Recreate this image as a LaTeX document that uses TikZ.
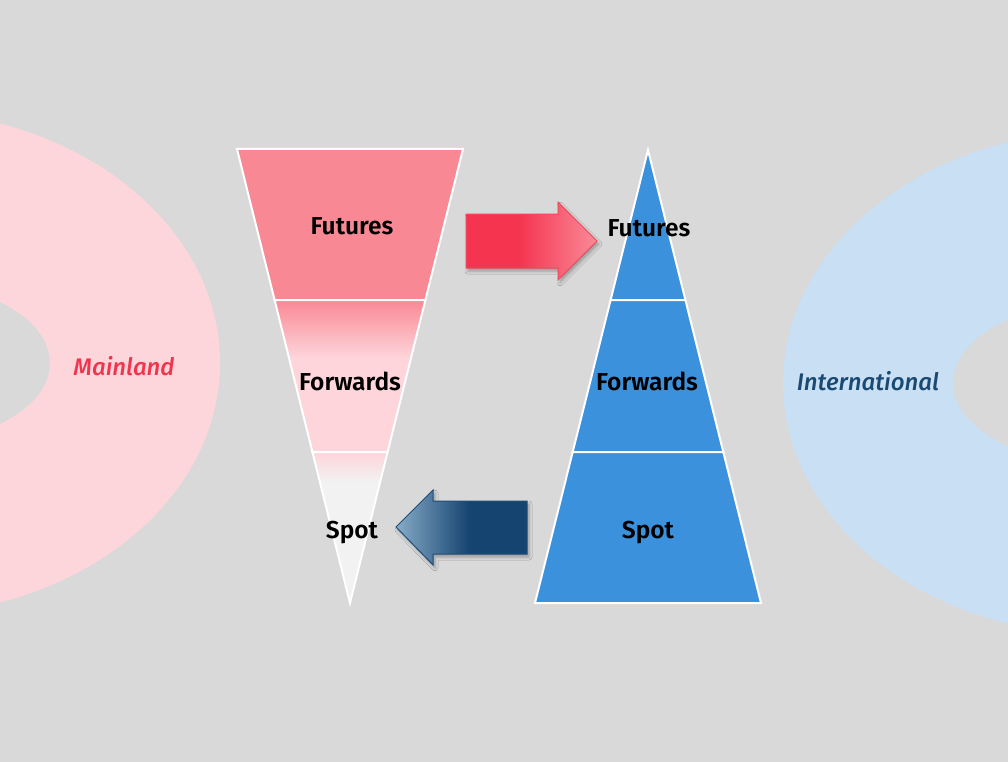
\documentclass[tikz,border=0pt]{standalone}
\usepackage{fontspec}
\setmainfont{Fira Sans}[BoldFont={Fira Sans SemiBold}, BoldItalicFont={Fira Sans Medium Italic}]
\usetikzlibrary{shadows.blur}
\definecolor{bg}{HTML}{D9D9D9}
\definecolor{ringpink}{HTML}{FDD6DB}
\definecolor{ringblue}{HTML}{C9DFF4}
\definecolor{funtop}{HTML}{F98895}
\definecolor{funlight}{HTML}{FDD5DA}
\definecolor{spotgray}{HTML}{F2F2F2}
\definecolor{pyr}{HTML}{3C91DC}
\definecolor{redA}{HTML}{F5344F}
\definecolor{redB}{HTML}{F98A98}
\definecolor{redline}{HTML}{F0485A}
\definecolor{blueA}{HTML}{88ABC8}
\definecolor{blueB}{HTML}{154470}
\definecolor{blueline}{HTML}{1F4E79}
\definecolor{mainred}{HTML}{F0364F}
\definecolor{intlblue}{HTML}{1A4A73}
\pgfdeclareverticalshading{midband}{100bp}{color(0bp)=(funlight); color(56bp)=(funlight); color(75bp)=(funtop); color(100bp)=(funtop)}
\pgfdeclareverticalshading{lowband}{100bp}{color(0bp)=(spotgray); color(65bp)=(spotgray); color(75bp)=(funlight); color(100bp)=(funlight)}
\pgfdeclarehorizontalshading{redarrow}{100bp}{color(0bp)=(redA); color(45bp)=(redA); color(75bp)=(redB); color(100bp)=(redB)}
\pgfdeclarehorizontalshading{bluearrow}{100bp}{color(0bp)=(blueA); color(25bp)=(blueA); color(53bp)=(blueB); color(100bp)=(blueB)}
\tikzset{
  seg/.style={draw=white, line width=2pt},
  lbl/.style={font=\fontsize{24.5}{28}\selectfont\bfseries, text=black, inner sep=0pt, anchor=base},
  ringlbl/.style={font=\fontsize{24}{28}\selectfont\bfseries\itshape, inner sep=0pt, anchor=base},
  arrshadow/.style={blur shadow={shadow xshift=2pt, shadow yshift=-3pt, shadow blur radius=3pt, shadow opacity=30}}
}
\begin{document}
\begin{tikzpicture}[x=1pt, y=-1pt]
\useasboundingbox (0,0) rectangle (1008,762);
\fill[bg] (0,0) rectangle (1008,762);
\begin{scope}
\clip (0,0) rectangle (1008,762);
\fill[ringpink, even odd rule] (-100,363) ellipse [x radius=320, y radius=252] (-100,363) ellipse [x radius=150, y radius=82];
\fill[ringblue, even odd rule] (1103,383) ellipse [x radius=320, y radius=252] (1103,383) ellipse [x radius=150, y radius=82];
\end{scope}
\node[ringlbl, text=mainred] (mainland) at (124,375) {Mainland};
\node[ringlbl, text=intlblue] (intl) at (868,390) {International};
% funnel
\path[seg, fill=funtop] (237,149) -- (463,149) -- (425.4,300) -- (274.6,300) -- cycle;
\shade[seg, shading=midband] (274.6,300) -- (425.4,300) -- (387.6,452) -- (312.4,452) -- cycle;
\shade[seg, shading=lowband] (312.4,452) -- (387.6,452) -- (350,603) -- cycle;
% pyramid
\path[seg, fill=pyr] (648,150) -- (685.4,300) -- (610.6,300) -- cycle;
\path[seg, fill=pyr] (610.6,300) -- (685.4,300) -- (723.3,452) -- (572.7,452) -- cycle;
\path[seg, fill=pyr] (572.7,452) -- (723.3,452) -- (761,603) -- (535,603) -- cycle;
% arrows
\shade[arrshadow, shading=redarrow, draw=redline, line width=1pt] (466,214) -- (558,214) -- (558,202) -- (597,241) -- (558,280) -- (558,268) -- (466,268) -- cycle;
\shade[arrshadow, shading=bluearrow, draw=blueline, line width=1pt] (527,501) -- (433,501) -- (433,490) -- (396,527) -- (433,565) -- (433,554) -- (527,554) -- cycle;
% labels
\node[lbl] (lfut) at (352,234) {Futures};
\node[lbl] (lfwd) at (350,390) {Forwards};
\node[lbl] (lspot) at (352,538) {Spot};
\node[lbl] (rfut) at (649,236) {Futures};
\node[lbl] (rfwd) at (647,390) {Forwards};
\node[lbl] (rspot) at (648,538) {Spot};
\end{tikzpicture}
\end{document}
